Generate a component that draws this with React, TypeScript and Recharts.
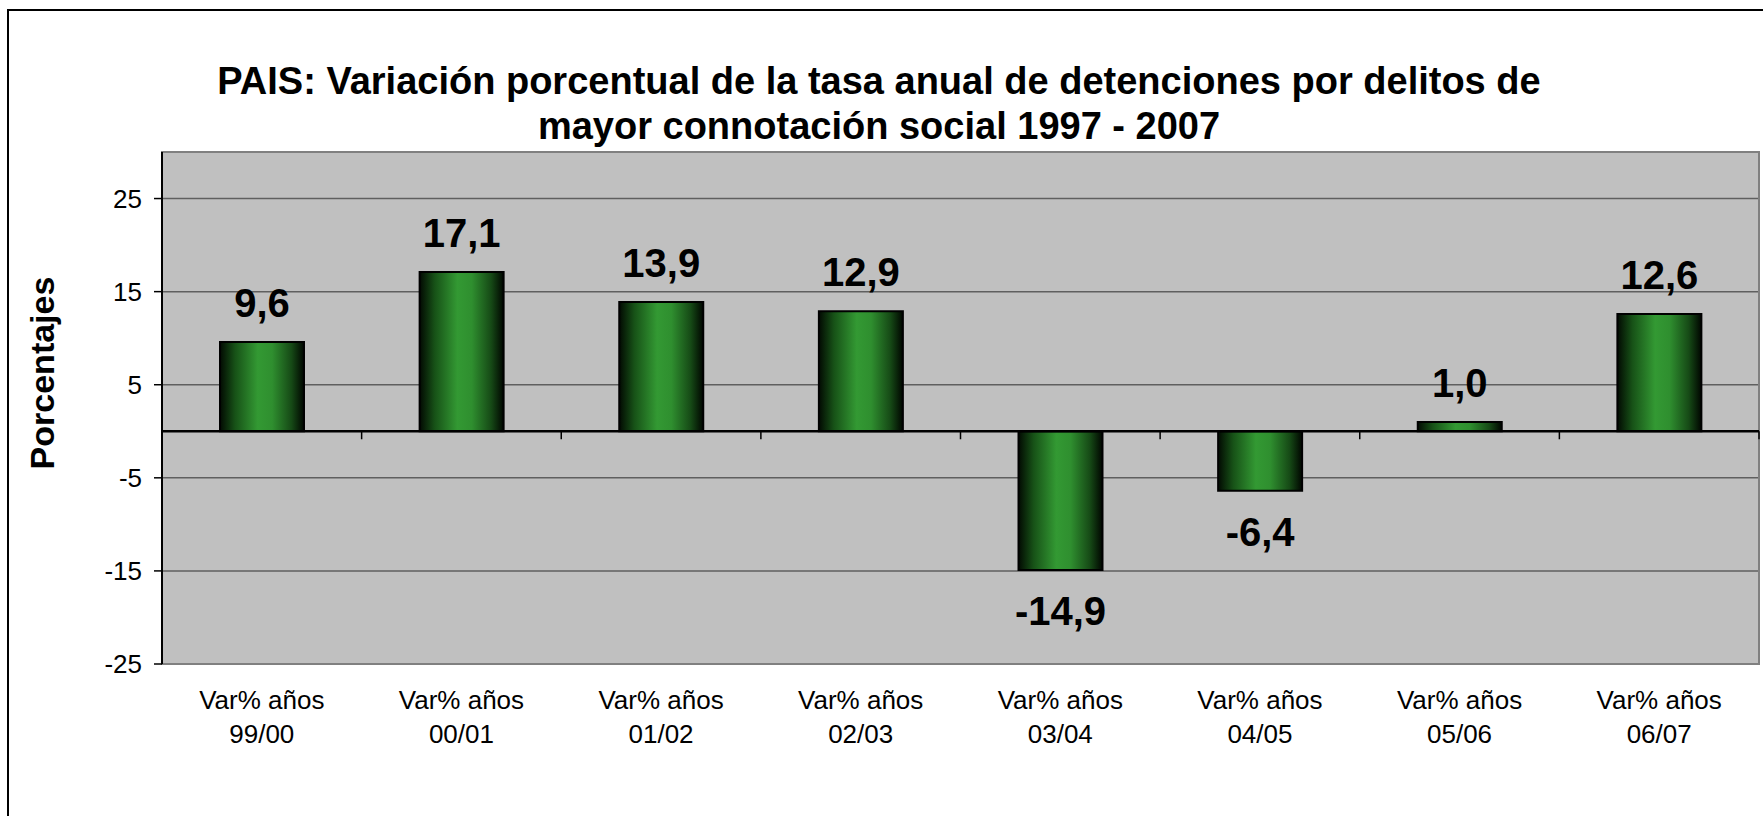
import React from "react";
import {
  Bar,
  BarChart,
  CartesianGrid,
  LabelList,
  ReferenceArea,
  ReferenceLine,
  XAxis,
  YAxis,
} from "recharts";

const periodos = ["99/00", "00/01", "01/02", "02/03", "03/04", "04/05", "05/06", "06/07"];
const variacion = [9.6, 17.1, 13.9, 12.9, -14.9, -6.4, 1.0, 12.6];
const yTicks = [-25, -15, -5, 5, 15, 25];
const prefijo = "Var% años";
const titulo = [
  "PAIS: Variación porcentual de la tasa anual de detenciones por delitos de",
  "mayor connotación social 1997 - 2007",
];

const data = periodos.map((p, i) => ({ periodo: p, valor: variacion[i] }));

const FONT = "'Liberation Sans', Arial, sans-serif";

// eje en cero con marcas entre categorias
function LineaCero(props: any) {
  const { x1, x2, y1 } = props;
  const n = periodos.length;
  const paso = (x2 - x1) / n;
  return (
    <g>
      <line x1={x1} x2={x2} y1={y1} y2={y1} stroke="#000" strokeWidth={2.5} />
      {Array.from({ length: n + 1 }, (_, i) => (
        <line
          key={i}
          x1={x1 + i * paso}
          x2={x1 + i * paso}
          y1={y1}
          y2={y1 + 8}
          stroke="#000"
          strokeWidth={1.5}
        />
      ))}
    </g>
  );
}

function Etiqueta(props: any) {
  const { x, y, width, height, value } = props;
  const arriba = Math.min(y, y + height);
  const abajo = Math.max(y, y + height);
  const cx = x + width / 2;
  const texto = Number(value).toFixed(1).replace(".", ",");
  return (
    <text
      x={cx}
      y={value >= 0 ? arriba - 25 : abajo + 55}
      textAnchor="middle"
      fontSize={40}
      fontWeight="bold"
      fontFamily={FONT}
      fill="#000"
    >
      {texto}
    </text>
  );
}

function TickPeriodo(props: any) {
  const { x, y, payload } = props;
  return (
    <text textAnchor="middle" fontSize={26} fontFamily={FONT} fill="#000">
      <tspan x={x} y={y + 45}>
        {prefijo}
      </tspan>
      <tspan x={x} y={y + 79}>
        {payload.value}
      </tspan>
    </text>
  );
}

export default function App() {
  return (
    <div
      style={{
        position: "absolute",
        left: 0,
        top: 0,
        width: 1763,
        height: 816,
        overflow: "hidden",
        background: "#fff",
        fontFamily: FONT,
      }}
    >
      <div
        style={{
          position: "absolute",
          left: 7,
          top: 9,
          width: 1900,
          height: 900,
          border: "2px solid #000",
        }}
      />
      <div
        style={{
          position: "absolute",
          left: 0,
          top: 59,
          width: 1758,
          textAlign: "center",
          fontSize: 38,
          fontWeight: "bold",
          lineHeight: "45px",
          color: "#000",
        }}
      >
        {titulo.map((t) => (
          <div key={t}>{t}</div>
        ))}
      </div>
      <div
        style={{
          position: "absolute",
          left: 42,
          top: 373,
          transform: "translate(-50%, -50%) rotate(-90deg)",
          fontSize: 34,
          fontWeight: "bold",
          whiteSpace: "nowrap",
          color: "#000",
        }}
      >
        Porcentajes
      </div>
      <div style={{ position: "absolute", left: 0, top: 0 }}>
        <BarChart
          width={1763}
          height={816}
          data={data}
          margin={{ top: 152, right: 4, left: 0, bottom: 52 }}
        >
          <defs>
            <linearGradient id="verde" x1="0" y1="0" x2="1" y2="0">
              <stop offset="0%" stopColor="#020a02" />
              <stop offset="18%" stopColor="#175217" />
              <stop offset="45%" stopColor="#339933" />
              <stop offset="62%" stopColor="#2f8f2f" />
              <stop offset="85%" stopColor="#164a16" />
              <stop offset="100%" stopColor="#000500" />
            </linearGradient>
          </defs>
          <CartesianGrid
            vertical={false}
            stroke="#5f5f5f"
            strokeWidth={1.5}
            fill="#c0c0c0"
            fillOpacity={1}
          />
          <ReferenceArea
            y1={-25}
            y2={30}
            fill="none"
            stroke="#808080"
            strokeWidth={2}
          />
          <XAxis
            dataKey="periodo"
            height={100}
            tickLine={false}
            axisLine={false}
            tickSize={0}
            tickMargin={0}
            interval={0}
            tick={<TickPeriodo />}
          />
          <YAxis
            width={162}
            domain={[-25, 30]}
            ticks={yTicks}
            allowDataOverflow
            tickSize={8}
            tickMargin={12}
            axisLine={{ stroke: "#000", strokeWidth: 2 }}
            tickLine={{ stroke: "#000", strokeWidth: 1.5 }}
            tick={{ fontSize: 26, fill: "#000", fontFamily: FONT }}
          />
          <Bar
            dataKey="valor"
            barSize={84}
            fill="url(#verde)"
            stroke="#000"
            strokeWidth={2}
            isAnimationActive={false}
          >
            <LabelList dataKey="valor" content={<Etiqueta />} />
          </Bar>
          <ReferenceLine y={0} shape={<LineaCero />} />
        </BarChart>
      </div>
    </div>
  );
}
